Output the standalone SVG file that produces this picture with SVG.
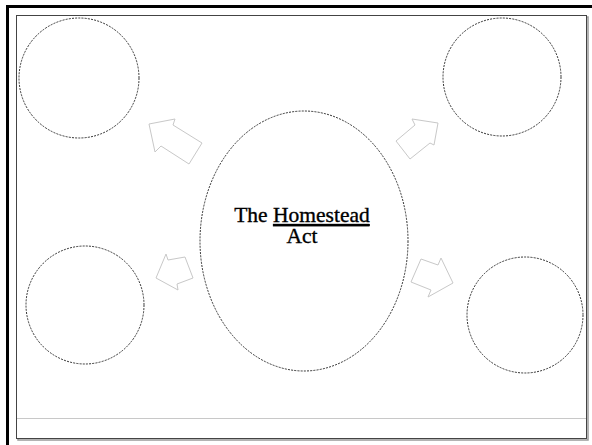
<svg xmlns="http://www.w3.org/2000/svg" width="592" height="445" viewBox="0 0 592 445">
<style>
.bubble{fill:none;stroke:#333;stroke-width:1;stroke-dasharray:2 1.2}
.arrow{fill:#fff;stroke:#c8c8c8;stroke-width:1;stroke-linejoin:miter}
.lbl{font-family:"Liberation Serif","Times New Roman",serif;font-size:21.5px;fill:#000;stroke:#000;stroke-width:0.35;text-anchor:middle}
</style>
<rect x="0" y="0" width="592" height="445" fill="#fff"/>
<rect id="outer-frame" x="7.5" y="6.5" width="600" height="460" fill="none" stroke="#000" stroke-width="3"/>
<g id="page">
<rect x="18" y="17" width="570" height="423" fill="none" stroke="#9a9a9a" stroke-width="1.5"/>
<rect x="16.5" y="15.5" width="570" height="423" fill="#fff" stroke="#444" stroke-width="1"/>
<line x1="17" y1="418.5" x2="586" y2="418.5" stroke="#c8c8c8" stroke-width="1"/>
</g>
<g id="node-center">
<ellipse class="bubble" cx="304" cy="241" rx="104" ry="130"/>
<text class="lbl" x="302" y="222">The <tspan text-decoration="underline">Homestead</tspan></text>
<text class="lbl" x="302" y="243">Act</text>
</g>
<g id="node-top-left"><circle class="bubble" cx="79" cy="78" r="60"/></g>
<g id="node-top-right"><circle class="bubble" cx="502" cy="77" r="59"/></g>
<g id="node-bottom-left"><circle class="bubble" cx="85" cy="305" r="59"/></g>
<g id="node-bottom-right"><circle class="bubble" cx="525" cy="315" r="58"/></g>
<g id="connectors">
<polygon class="arrow" points="149,124 175,119 173,125 202,143 189,164 161,146 155,152"/>
<polygon class="arrow" points="438,123 434,145 430,143 410,159 396,141 415,125 412,119"/>
<polygon class="arrow" points="156,278 166,254 168,260 185,257 193,278 177,284 178,290"/>
<polygon class="arrow" points="453,283 441,258 438,265 421,259 411,282 431,290 428,297"/>
</g>
</svg>
